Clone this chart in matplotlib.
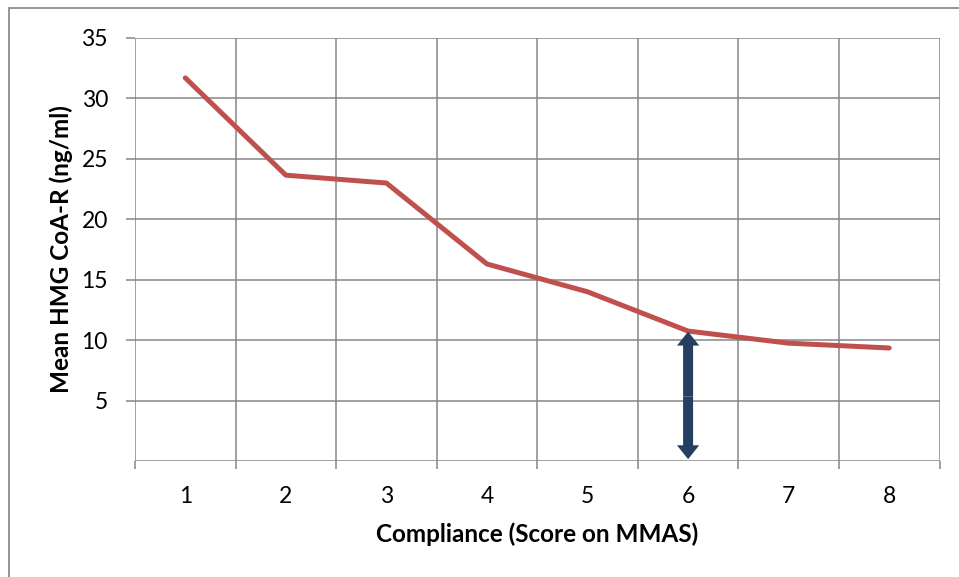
import matplotlib
matplotlib.use("Agg")
import matplotlib.pyplot as plt
from matplotlib.patches import Rectangle

categories = [1, 2, 3, 4, 5, 6, 7, 8]
values = [31.7, 23.65, 23.0, 16.3, 14.0, 10.75, 9.75, 9.35]
y_ticks = [5, 10, 15, 20, 25, 30, 35]
arrow_cat = 6
arrow_top = 10.7

plt.rcParams['font.family'] = ['Lato', 'DejaVu Sans']

W, H = 959, 577
fig = plt.figure(figsize=(W / 100, H / 100), dpi=100)
fig.patch.set_facecolor('white')

# outer chart border (partially cropped)
fig.patches.append(Rectangle((9 / W, -0.1), 1.2, (H - 8) / H + 0.1, transform=fig.transFigure,
                             fill=False, edgecolor='#8c8c8c', linewidth=1.3))

left, right, top, bottom = 135, 939.5, 38, 461
ax = fig.add_axes([left / W, 1 - bottom / H, (right - left) / W, (bottom - top) / H])

xpos = list(range(len(categories)))
ax.plot(xpos, values, color='#C0504D', linewidth=3.6, solid_capstyle='round', zorder=3)

ax.set_xlim(-0.5, len(categories) - 0.5)
ax.set_ylim(0, 35)
ax.set_yticks(y_ticks)
ax.set_yticklabels([str(v) for v in y_ticks])
ax.set_xticks(xpos)
ax.set_xticklabels([str(c) for c in categories])
ax.set_xticks([i - 0.5 for i in range(len(categories) + 1)], minor=True)

grid_c = '#868686'
ax.grid(False)
for yv in [0] + y_ticks:
    ax.axhline(yv, color=grid_c, linewidth=1.1, zorder=1)
for i in range(len(categories) + 1):
    ax.axvline(i - 0.5, color=grid_c, linewidth=1.1, zorder=1)
for s in ax.spines.values():
    s.set_visible(False)

ax.tick_params(axis='x', which='major', length=0, pad=18, labelsize=16.5)
ax.tick_params(axis='x', which='minor', length=6, width=1.1, color=grid_c)
ax.tick_params(axis='y', which='major', length=6.5, width=1.1, color=grid_c, pad=13, labelsize=16.5)

ax.set_xlabel('Compliance (Score on MMAS)', fontsize=17.5, fontweight='bold', labelpad=11)
ax.set_ylabel('Mean HMG CoA-R (ng/ml)', fontsize=17.5, fontweight='bold', labelpad=6)

xi = categories.index(arrow_cat)
mid = arrow_top / 2
astyle = 'simple,head_length=1.0,head_width=1.6,tail_width=0.72'
for tip in (arrow_top, 0.15):
    ax.annotate('', xy=(xi, tip), xytext=(xi, mid),
                arrowprops=dict(arrowstyle=astyle, mutation_scale=10,
                                facecolor='#243F60', edgecolor='#243F60', linewidth=0,
                                shrinkA=0, shrinkB=0),
                zorder=4)

fig.savefig('out.png', dpi=100, facecolor='white')
